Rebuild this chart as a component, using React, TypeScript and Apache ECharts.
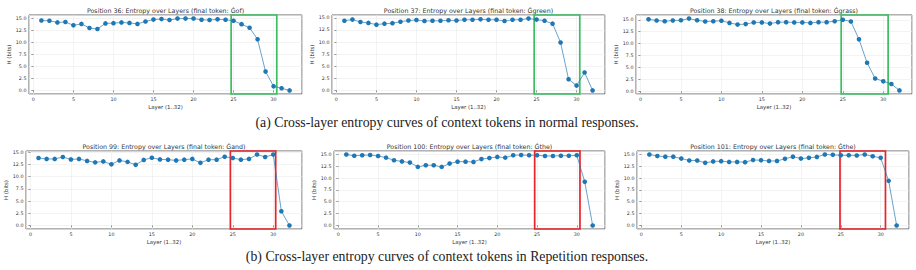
import React, { useEffect, useRef } from "react";
import * as echarts from "echarts";

const layers = Array.from({ length: 32 }, (_, i) => i + 1);

const titles = [
  "Position 36: Entropy over Layers (final token: Ġof)",
  "Position 37: Entropy over Layers (final token: Ġgreen)",
  "Position 38: Entropy over Layers (final token: Ġgrass)",
  "Position 99: Entropy over Layers (final token: Ġand)",
  "Position 100: Entropy over Layers (final token: Ġthe)",
  "Position 101: Entropy over Layers (final token: Ġthe)",
];

const pos36 = [14.5, 14.45, 14.1, 14.2, 13.5, 13.8, 12.95, 12.75, 13.9, 13.95, 14.1, 14.0, 13.8, 14.3, 14.7, 14.8, 14.6, 14.9, 14.9, 14.9, 14.65, 14.6, 14.75, 14.65, 14.45, 13.75, 13.0, 10.6, 3.9, 0.85, 0.45, 0.0];
const pos37 = [14.4, 14.65, 14.15, 13.95, 13.6, 13.8, 13.9, 14.2, 14.45, 14.55, 14.35, 14.4, 14.4, 14.5, 14.45, 14.6, 14.6, 14.7, 14.6, 14.6, 14.35, 14.6, 14.6, 14.85, 14.65, 14.4, 13.8, 9.9, 2.3, 1.0, 3.7, 0.0];
const pos38 = [15.1, 14.85, 14.7, 14.85, 14.9, 15.25, 14.9, 14.65, 14.7, 14.8, 14.35, 14.0, 14.1, 14.45, 14.45, 14.2, 14.5, 14.5, 14.45, 14.45, 14.35, 14.5, 14.5, 14.7, 15.0, 14.65, 10.9, 6.0, 2.7, 2.1, 1.55, 0.2];
const pos99 = [13.8, 13.6, 13.6, 14.0, 13.5, 13.6, 13.2, 12.9, 13.1, 12.5, 13.3, 13.0, 12.4, 13.4, 13.85, 13.5, 13.45, 13.3, 13.45, 13.6, 12.8, 13.45, 13.45, 14.05, 13.8, 13.45, 13.6, 14.5, 14.0, 14.5, 2.9, 0.0];
const pos100 = [14.95, 14.7, 14.8, 14.85, 14.65, 14.3, 13.75, 13.5, 13.25, 12.35, 12.7, 12.7, 12.35, 13.05, 13.45, 13.45, 13.4, 14.0, 14.2, 14.45, 14.3, 14.8, 14.85, 14.8, 14.8, 14.65, 14.65, 14.7, 14.7, 14.8, 9.2, 0.0];
const pos101 = [14.95, 14.65, 14.5, 14.5, 14.1, 13.7, 13.7, 13.2, 13.5, 13.55, 13.4, 13.4, 13.35, 13.8, 13.75, 13.6, 13.6, 14.05, 14.5, 14.1, 14.25, 14.45, 14.95, 14.9, 14.8, 14.8, 14.75, 14.95, 14.6, 14.25, 9.4, 0.0];

const seriesValues = [pos36, pos37, pos38, pos99, pos100, pos101];

// highlighted layer span per panel [from, to]
const boxSpans = [
  [24.7, 30.4],
  [24.7, 30.4],
  [24.8, 30.6],
  [24.7, 30.3],
  [24.7, 30.4],
  [24.9, 30.6],
];
const boxKinds = ["normal", "normal", "normal", "rep", "rep", "rep"];

const xTickStep = 5;
const yTickStep = 2.5;

const captions = [
  "(a) Cross-layer entropy curves of context tokens in normal responses.",
  "(b) Cross-layer entropy curves of context tokens in Repetition responses.",
];

const GRIDS = [
  { left: 29, top: 15, width: 273, height: 79 },
  { left: 332, top: 15, width: 273, height: 79 },
  { left: 636, top: 15, width: 276, height: 79 },
  { left: 26, top: 151, width: 276, height: 78 },
  { left: 334, top: 151, width: 271, height: 78 },
  { left: 637, top: 151, width: 272, height: 78 },
];

const FONT = "DejaVu Sans";

function isMult(v: number, step: number) {
  const r = v / step;
  return Math.abs(r - Math.round(r)) < 1e-6;
}

export default function App() {
  const ref = useRef<HTMLDivElement>(null);
  useEffect(() => {
    if (!ref.current) return;
    const chart = echarts.init(ref.current, null, { renderer: "svg" });

    const xN = layers.length;
    const xMin = 1 - 0.05 * (xN - 1);
    const xMax = xN + 0.05 * (xN - 1);

    const grid = GRIDS.map((g) => ({
      ...g,
      show: true,
      borderColor: "#555",
      borderWidth: 0.9,
      backgroundColor: "transparent",
      containLabel: false,
    }));

    const xAxis = GRIDS.map((_, i) => ({
      type: "value",
      gridIndex: i,
      min: xMin,
      max: xMax,
      minInterval: xTickStep,
      maxInterval: xTickStep,
      splitNumber: 6,
      name: "Layer (1..32)",
      nameLocation: "middle",
      nameGap: 10.5,
      nameTextStyle: { fontSize: 5.4, color: "#333", fontFamily: FONT },
      axisLine: { show: false },
      axisTick: { show: true, length: 2, lineStyle: { color: "#555", width: 0.6 } },
      axisLabel: {
        fontSize: 4.8,
        color: "#333",
        fontFamily: FONT,
        margin: 2.5,
        showMinLabel: false,
        showMaxLabel: false,
        formatter: (v: number) => (isMult(v, xTickStep) ? String(Math.round(v)) : ""),
      },
      splitLine: { show: true, lineStyle: { color: "#ebebeb", width: 0.6 } },
    }));

    const yAxis = seriesValues.map((vals, i) => {
      const lo = Math.min(...vals);
      const hi = Math.max(...vals);
      const span = hi - lo;
      return {
        type: "value",
        gridIndex: i,
        min: lo - 0.05 * span,
        max: hi + 0.05 * span,
        minInterval: yTickStep,
        maxInterval: yTickStep,
        splitNumber: 7,
        name: "H (bits)",
        nameLocation: "middle",
        nameGap: 15,
        nameTextStyle: { fontSize: 5.4, color: "#333", fontFamily: FONT },
        axisLine: { show: false },
        axisTick: { show: true, length: 2, lineStyle: { color: "#555", width: 0.6 } },
        axisLabel: {
          fontSize: 4.8,
          color: "#333",
          fontFamily: FONT,
          margin: 2.5,
          showMinLabel: false,
          showMaxLabel: false,
          formatter: (v: number) => (isMult(v, yTickStep) ? v.toFixed(1) : ""),
        },
        splitLine: { show: true, lineStyle: { color: "#ebebeb", width: 0.6 } },
      };
    });

    const series = seriesValues.map((vals, i) => ({
      type: "line",
      xAxisIndex: i,
      yAxisIndex: i,
      data: vals.map((v, k) => [layers[k], v]),
      symbol: "circle",
      symbolSize: 4.6,
      itemStyle: { color: "#1f77b4" },
      lineStyle: { color: "#1f77b4", width: 0.9, opacity: 0.75 },
      markArea: {
        silent: true,
        itemStyle: {
          color: "rgba(0,0,0,0)",
          borderColor: boxKinds[i] === "normal" ? "#3cbf63" : "#e8242a",
          borderWidth: 1.7,
        },
        data: [[{ xAxis: boxSpans[i][0] }, { xAxis: boxSpans[i][1] }]],
      },
    }));

    const graphic: any[] = [];
    GRIDS.forEach((g, i) => {
      graphic.push({
        type: "text",
        x: g.left + g.width / 2,
        y: g.top - 4.6,
        style: {
          text: titles[i],
          fontSize: 6.3,
          fontFamily: FONT,
          fill: "#333",
          textAlign: "center",
          textVerticalAlign: "middle",
        },
      });
    });
    graphic.push({
      type: "text",
      x: 447,
      y: 122,
      style: {
        text: captions[0],
        fontSize: 13.8,
        fontFamily: "Liberation Serif",
        fill: "#222",
        textAlign: "center",
        textVerticalAlign: "middle",
      },
    });
    graphic.push({
      type: "text",
      x: 447,
      y: 256,
      style: {
        text: captions[1],
        fontSize: 13.8,
        fontFamily: "Liberation Serif",
        fill: "#222",
        textAlign: "center",
        textVerticalAlign: "middle",
      },
    });

    chart.setOption({
      animation: false,
      backgroundColor: "#ffffff",
      grid,
      xAxis,
      yAxis,
      series,
      graphic,
    } as any);

    return () => chart.dispose();
  }, []);

  return (
    <div
      ref={ref}
      style={{ position: "absolute", left: 0, top: 0, width: 916, height: 270 }}
    />
  );
}
